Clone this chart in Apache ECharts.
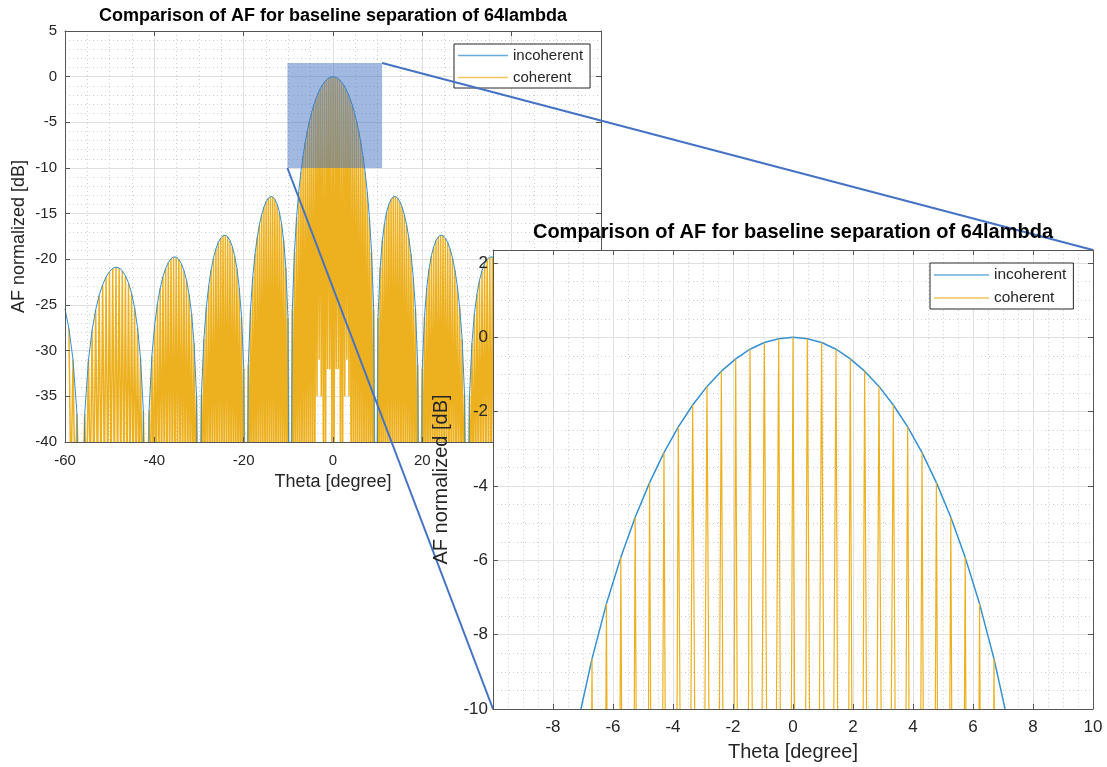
<!DOCTYPE html>
<html><head><meta charset="utf-8">
<script src="https://cdn.jsdelivr.net/npm/echarts@6/dist/echarts.min.js"></script>
<style>html,body{margin:0;padding:0;background:#fff}#c{width:1107px;height:767px}</style>
</head><body><div id="c"></div><script>
// ---------- data ----------
// fringe (coherent peak) angles in degrees
const fringeThetaDeg = [
-59.130,-58.212,-57.317,-56.443,-55.589,-54.753,-53.933,-53.130,-52.342,-51.567,
-50.805,-50.056,-49.317,-48.590,-47.874,-47.167,-46.469,-45.780,-45.099,-44.427,
-43.762,-43.105,-42.454,-41.810,-41.173,-40.542,-39.916,-39.297,-38.682,-38.073,
-37.469,-36.870,-36.275,-35.685,-35.100,-34.518,-33.941,-33.367,-32.797,-32.231,
-31.668,-31.109,-30.553,-30.000,-29.450,-28.903,-28.359,-27.818,-27.280,-26.744,
-26.210,-25.679,-25.151,-24.624,-24.100,-23.578,-23.058,-22.540,-22.024,-21.510,
-20.998,-20.487,-19.978,-19.471,-18.966,-18.461,-17.959,-17.458,-16.958,-16.459,
-15.962,-15.466,-14.971,-14.478,-13.985,-13.493,-13.003,-12.513,-12.025,-11.537,
-11.050,-10.564,-10.079,-9.594,-9.110,-8.627,-8.144,-7.662,-7.181,-6.700,
-6.219,-5.739,-5.260,-4.780,-4.301,-3.823,-3.344,-2.866,-2.388,-1.910,
-1.433,-0.955,-0.477,
0,
0.477,0.955,1.433,1.910,2.388,2.866,3.344,3.823,4.301,4.780,
5.260,5.739,6.219,6.700,7.181,7.662,8.144,8.627,9.110,9.594,
10.079,10.564,11.050,11.537,12.025,12.513,13.003,13.493,13.985,14.478,
14.971,15.466,15.962,16.459,16.958,17.458,17.959,18.461,18.966,19.471,
19.978,20.487,20.998,21.510,22.024,22.540,23.058,23.578,24.100,24.624,
25.151,25.679,26.210,26.744,27.280,27.818,28.359,28.903,29.450,30.000,
30.553,31.109,31.668,32.231,32.797,33.367,33.941,34.518,35.100,35.685,
36.275,36.870,37.469,38.073,38.682,39.297,39.916,40.542,41.173,41.810,
42.454,43.105,43.762,44.427,45.099,45.780,46.469,47.167,47.874,48.590,
49.317,50.056,50.805,51.567,52.342,53.130,53.933,54.753,55.589,56.443,
57.317,58.212,59.130
];
// incoherent envelope (dB) at those angles; -80 = null below the axis
const incoherentDb = [
-27.56,-30.96,-36.91,-80,-36.96,-31.06,-27.74,-25.51,-23.92,-22.77,
-21.93,-21.35,-20.99,-20.85,-20.95,-21.26,-21.79,-22.58,-23.71,-25.27,
-27.47,-30.76,-36.62,-80,-36.51,-30.53,-27.13,-24.82,-23.14,-21.90,
-20.99,-20.35,-19.93,-19.74,-19.76,-20.00,-20.47,-21.22,-22.29,-23.79,
-25.93,-29.16,-34.97,-80,-34.73,-28.70,-25.23,-22.86,-21.13,-19.82,
-18.85,-18.14,-17.66,-17.41,-17.36,-17.53,-17.93,-18.61,-19.60,-21.03,
-23.09,-26.25,-31.97,-80,-31.57,-25.44,-21.89,-19.42,-17.58,-16.18,
-15.09,-14.27,-13.68,-13.30,-13.12,-13.16,-13.42,-13.94,-14.78,-16.04,
-17.92,-20.88,-26.40,-80,-25.55,-19.17,-15.34,-12.57,-10.41,-8.65,
-7.17,-5.92,-4.84,-3.91,-3.10,-2.41,-1.82,-1.32,-0.91,-0.58,
-0.32,-0.14,-0.04,
0,
-0.04,-0.14,-0.32,-0.58,-0.91,-1.32,-1.82,-2.41,-3.10,-3.91,
-4.84,-5.92,-7.17,-8.65,-10.41,-12.57,-15.34,-19.17,-25.55,-80,
-26.40,-20.88,-17.92,-16.04,-14.78,-13.94,-13.42,-13.16,-13.12,-13.30,
-13.68,-14.27,-15.09,-16.18,-17.58,-19.42,-21.89,-25.44,-31.57,-80,
-31.97,-26.25,-23.09,-21.03,-19.60,-18.61,-17.93,-17.53,-17.36,-17.41,
-17.66,-18.14,-18.85,-19.82,-21.13,-22.86,-25.23,-28.70,-34.73,-80,
-34.97,-29.16,-25.93,-23.79,-22.29,-21.22,-20.47,-20.00,-19.76,-19.74,
-19.93,-20.35,-20.99,-21.90,-23.14,-24.82,-27.13,-30.53,-36.51,-80,
-36.62,-30.76,-27.47,-25.27,-23.71,-22.58,-21.79,-21.26,-20.95,-20.85,
-20.99,-21.35,-21.93,-22.77,-23.92,-25.51,-27.74,-31.06,-36.96,-80,
-36.91,-30.96,-27.56
];
// envelope at the plot edges
const edgeThetaDeg = [-60, 60];
const edgeIncoherentDb = [-25.4, -25.4];
// coherent dips between fringes (below the axis), with a few shallower dips near 0
const troughFloorDb = -45;
const raisedGapOrder = [-7.5,-6.5,-5.5,-2.5,-1.5,1.5,2.5,5.5,6.5,7.5];
const raisedGapDb    = [-35,-31,-35,-32,-32,-32,-32,-35,-31,-35];
// zoom rectangle drawn on the main axes (data units)
const zoomRectTheta = [-10.2, 11.0];
const zoomRectDb = [-10, 1.5];
// axis ranges / ticks
const mainX = {min:-60, max:60, interval:20};
const mainY = {min:-40, max:5, interval:5};
const insetX = {min:-10, max:10, interval:2};
const insetY = {min:-10, max:2.35, interval:2};
const titleText = 'Comparison of AF for baseline separation of 64lambda';
const seriesNames = ['incoherent', 'coherent'];

// ---------- build series data ----------
const incData = [[edgeThetaDeg[0], edgeIncoherentDb[0]]];
fringeThetaDeg.forEach((t, i) => incData.push([t, incoherentDb[i]]));
incData.push([edgeThetaDeg[1], edgeIncoherentDb[1]]);

const center = fringeThetaDeg.indexOf(0);
const cohData = [];
for (let i = 0; i < fringeThetaDeg.length; i++) {
  cohData.push([fringeThetaDeg[i], incoherentDb[i]]);
  if (i < fringeThetaDeg.length - 1) {
    const order = i - center + 0.5;
    const r = raisedGapOrder.indexOf(order);
    const dip = r >= 0 ? raisedGapDb[r] : troughFloorDb;
    cohData.push([(fringeThetaDeg[i] + fringeThetaDeg[i + 1]) / 2, dip]);
  }
}

// ---------- styles ----------
const FONT = '"Liberation Sans", Arial, Helvetica, sans-serif';
const TXT = '#262626';
const FRAME = '#555555';
const MAJ = '#e0e0e0';
const MINC = '#cfcfcf';
const BLUE = '#3590d3';
const ORANGE = '#EDB120';

function gridAxes(kind, gi, rng, minorSplit, zl, label) {
  const isX = kind === 'x';
  const base = {type:'value', gridIndex:gi, min:rng.min, max:rng.max, interval:rng.interval, zlevel:zl};
  const lines = Object.assign({}, base, {
    position: isX ? 'bottom' : 'left', z:0,
    axisLine:{show:false, onZero:false}, axisTick:{show:false}, axisLabel:{show:false},
    splitLine:{show:true, lineStyle:{color:MAJ, width:1}},
    minorTick:{show:false, splitNumber:minorSplit},
    minorSplitLine:{show:true, lineStyle:{color:MINC, width:1, type:[1,3]}}
  });
  const front = Object.assign({}, base, {
    position: isX ? 'bottom' : 'left', z:10,
    axisLine:{show:true, onZero:false, lineStyle:{color:FRAME, width:1}},
    axisTick:{show:true, inside:true, length:5, lineStyle:{color:FRAME, width:1}},
    axisLabel:Object.assign({show:true, color:TXT, fontFamily:FONT}, label.tick),
    splitLine:{show:false},
    name:label.name, nameLocation:'middle', nameGap:label.nameGap,
    nameTextStyle:{color:TXT, fontFamily:FONT, fontSize:label.nameSize}
  });
  const back = Object.assign({}, base, {
    position: isX ? 'top' : 'right', z:10,
    axisLine:{show:true, onZero:false, lineStyle:{color:FRAME, width:1}},
    axisTick:{show:true, inside:true, length:5, lineStyle:{color:FRAME, width:1}},
    axisLabel:{show:false}, splitLine:{show:false}
  });
  return [lines, front, back];
}

const xAxes = [].concat(
  gridAxes('x', 0, mainX, 4, 0, {tick:{fontSize:15, margin:11}, name:'Theta [degree]', nameGap:31, nameSize:18}),
  gridAxes('x', 1, insetX, 4, 1, {tick:{fontSize:17, margin:10, showMinLabel:false}, name:'Theta [degree]', nameGap:33, nameSize:20})
);
const yAxes = [].concat(
  gridAxes('y', 0, mainY, 5, 0, {tick:{fontSize:15, margin:8}, name:'AF normalized [dB]', nameGap:37, nameSize:18}),
  gridAxes('y', 1, insetY, 4, 1, {tick:{fontSize:17, margin:5}, name:'AF normalized [dB]', nameGap:42, nameSize:20})
);

function legendCfg(left, top, w, fs, zl) {
  return {data:seriesNames, orient:'vertical', left:left, top:top, icon:'rect',
    itemWidth:w, itemHeight:1.6, itemGap:7,
    padding:[4,7,3,4], backgroundColor:'#fff', borderColor:'#262626', borderWidth:1, borderRadius:0,
    selectedMode:false, zlevel:zl, z:20,
    itemStyle:{opacity:0.75},
    textStyle:{fontSize:fs, lineHeight:14, color:TXT, fontFamily:FONT}};
}

function lineSeries(name, data, color, width, xi, yi, zl, z) {
  return {name:name, type:'line', data:data, xAxisIndex:xi, yAxisIndex:yi, zlevel:zl, z:z,
    symbol:'none', showSymbol:false, clip:true, animation:false, silent:true,
    lineStyle:{color:color, width:width}, itemStyle:{color:color}};
}

const chart = echarts.init(document.getElementById('c'), null, {renderer:'canvas'});
chart.setOption({
  animation:false,
  backgroundColor:'#fff',
  title:[
    {text:titleText, left:333, top:7, textAlign:'center', padding:0,
     textStyle:{fontSize:18, fontWeight:'bold', color:'#000', fontFamily:FONT}},
    {text:titleText, left:793, top:222, textAlign:'center', padding:0, zlevel:1,
     textStyle:{fontSize:20, fontWeight:'bold', color:'#000', fontFamily:FONT}}
  ],
  legend:[legendCfg(454, 44, 50, 15, 0), legendCfg(930, 263, 55, 15.5, 1)],
  grid:[
    {left:65, top:31, width:536, height:411},
    {left:493, top:250, width:600, height:459, show:true, backgroundColor:'#fff', borderWidth:0, zlevel:1}
  ],
  xAxis:xAxes,
  yAxis:yAxes,
  series:[
    lineSeries(seriesNames[0], incData, BLUE, 1, 0, 0, 0, 4),
    lineSeries(seriesNames[1], cohData, ORANGE, 1.5, 0, 0, 0, 3),
    lineSeries(seriesNames[0], incData, BLUE, 1.5, 3, 3, 1, 2),
    lineSeries(seriesNames[1], cohData, ORANGE, 1.2, 3, 3, 1, 3)
  ]
});

// zoom rectangle and connector lines, placed through the axes' scales
const pTL = chart.convertToPixel({seriesIndex:0}, [zoomRectTheta[0], zoomRectDb[1]]);
const pBR = chart.convertToPixel({seriesIndex:0}, [zoomRectTheta[1], zoomRectDb[0]]);
const qTR = chart.convertToPixel({seriesIndex:2}, [insetX.max, insetY.max]);
const qBL = chart.convertToPixel({seriesIndex:2}, [insetX.min, insetY.min]);
chart.setOption({
  graphic:[
    {type:'rect', z:50, silent:true,
     shape:{x:pTL[0], y:pTL[1], width:pBR[0]-pTL[0], height:pBR[1]-pTL[1]},
     style:{fill:'rgba(68,114,196,0.5)'}},
    {type:'line', z:51, silent:true,
     shape:{x1:pBR[0], y1:pTL[1], x2:qTR[0], y2:qTR[1]},
     style:{stroke:'#4472C4', lineWidth:2}},
    {type:'line', z:51, silent:true,
     shape:{x1:pTL[0], y1:pBR[1], x2:qBL[0], y2:qBL[1]},
     style:{stroke:'#4472C4', lineWidth:2}}
  ]
});
</script></body></html>
